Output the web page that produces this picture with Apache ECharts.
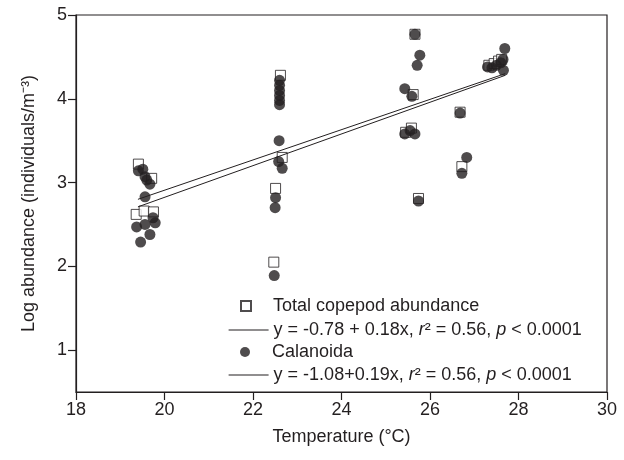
<!DOCTYPE html>
<html>
<head>
<meta charset="utf-8">
<script src="https://cdn.jsdelivr.net/npm/echarts@6/dist/echarts.min.js"></script>
<style>html,body{margin:0;padding:0;background:#fff}#c{width:624px;height:460px}</style>
</head>
<body>
<div id="c"></div>
<script>
// Total copepod abundance (open squares)
var totalTemp  = [19.41,19.71,19.36,19.54,19.75, 22.62,22.51,22.47,22.66, 25.66,25.62,25.45,25.58,25.74, 26.72,26.68, 27.33,27.45,27.55,27.62];
var totalAbund = [3.22, 3.05, 2.62, 2.66, 2.65,  4.28, 2.93, 2.05, 3.30,  4.77, 4.05, 3.60, 3.65, 2.81,  3.19, 3.84,  4.40, 4.42, 4.45, 4.47];
// Calanoida (filled circles)
var calTemp  = [19.41,19.51,19.56,19.60,19.67,19.56,19.37,19.56,19.74,19.79,19.67,19.46,
                22.60,22.60,22.60,22.60,22.60,22.60,22.59,22.58,22.66,22.51,22.50,22.48,
                25.66,25.77,25.71,25.43,25.59,25.43,25.55,25.66,25.74,
                26.68,26.83,26.72,
                27.30,27.40,27.50,27.60,27.66,27.69,27.65];
var calAbund = [3.14,3.16,3.07,3.03,2.98,2.83,2.47,2.50,2.58,2.52,2.38,2.29,
                4.22,4.16,4.10,4.04,3.98,3.93,3.50,3.25,3.17,2.82,2.70,1.89,
                4.77,4.52,4.40,4.12,4.03,3.58,3.62,3.58,2.78,
                3.83,3.30,3.11,
                4.38,4.37,4.40,4.43,4.34,4.60,4.47];
// Fitted regression lines (end points as drawn)
var totalFitTemp = [19.4, 27.7];
var totalFitAbund = [2.80, 4.30];
var calFitTemp = [19.4, 27.7];
var calFitAbund = [2.71, 4.28];
// Axis ticks
var xTicks = [18,20,22,24,26,28,30];
var yTicks = [1,2,3,4,5];

var nameTotal = 'Total copepod abundance';
var nameTotalFit = 'y = -0.78 + 0.18x, r2 = 0.56, p < 0.0001';
var nameCal = 'Calanoida';
var nameCalFit = 'y = -1.08+0.19x, r2 = 0.56, p < 0.0001';

function zip(a, b) { return a.map(function (v, i) { return [v, b[i]]; }); }

var ink = '#231f20';
var font = 'Liberation Sans, Arial, Helvetica, sans-serif';
var rich = {
  n: {fontSize: 18, fontFamily: font, color: ink},
  i: {fontSize: 18, fontFamily: font, color: ink, fontStyle: 'italic'},
  g: {width: 17, fontSize: 18}
};
function fmt(name) {
  if (name === nameTotalFit) return '{n|y = -0.78 + 0.18x, }{i|r}{n|² = 0.56, }{i|p}{n| < 0.0001}';
  if (name === nameCalFit) return '{n|y = -1.08+0.19x, }{i|r}{n|² = 0.56, }{i|p}{n| < 0.0001}';
  return '{g|}{n|' + name + '}';
}
function markerLegend(name, top) {
  return {
    data: [name], left: 240, top: top, padding: 0,
    itemWidth: 10, itemHeight: 10,
    selectedMode: false, formatter: fmt,
    textStyle: {rich: rich, color: ink, fontSize: 18, fontFamily: font}
  };
}
function lineLegend(name, top) {
  return {
    data: [name], left: 228, top: top, padding: 0,
    itemWidth: 40, itemHeight: 14,
    selectedMode: false, formatter: fmt,
    itemStyle: {opacity: 0},
    lineStyle: {color: ink, width: 1.2},
    textStyle: {rich: rich, color: ink, fontSize: 18, fontFamily: font}
  };
}

var chart = echarts.init(document.getElementById('c'), null, {renderer: 'canvas'});
chart.setOption({
  animation: false,
  backgroundColor: '#fff',
  grid: {left: 76, right: 17, top: 15, bottom: 68, show: true, borderColor: ink, borderWidth: 1.2, backgroundColor: 'transparent'},
  legend: [
    markerLegend(nameTotal, 297),
    lineLegend(nameTotalFit, 321),
    markerLegend(nameCal, 343),
    lineLegend(nameCalFit, 366)
  ],
  xAxis: {
    type: 'value', min: 18, max: 30, interval: 2,
    name: 'Temperature (°C)', nameLocation: 'middle', nameGap: 36,
    nameTextStyle: {fontSize: 18, fontFamily: font, color: ink},
    axisLine: {lineStyle: {color: ink, width: 1.2}},
    axisTick: {length: 8, lineStyle: {color: ink, width: 1.2}},
    axisLabel: {fontSize: 18, fontFamily: font, color: ink, margin: 9, customValues: xTicks},
    splitLine: {show: false}
  },
  yAxis: {
    type: 'value', min: 0.5, max: 5,
    name: 'Log abundance (individuals/m⁻³)', nameLocation: 'middle', nameGap: 38,
    nameTextStyle: {fontSize: 18, fontFamily: font, color: ink},
    axisLine: {show: true, lineStyle: {color: ink, width: 1.2}},
    axisTick: {show: true, length: 8, lineStyle: {color: ink, width: 1.2}, customValues: yTicks},
    axisLabel: {fontSize: 18, fontFamily: font, color: ink, margin: 9, customValues: yTicks},
    splitLine: {show: false}
  },
  series: [
    {
      name: nameTotal, type: 'scatter', symbol: 'rect', symbolSize: 10,
      itemStyle: {color: '#fff', borderColor: ink, borderWidth: 1},
      data: zip(totalTemp, totalAbund), z: 2
    },
    {
      name: nameTotalFit, type: 'line', symbol: 'none', showSymbol: false,
      lineStyle: {color: ink, width: 1}, itemStyle: {color: ink},
      data: zip(totalFitTemp, totalFitAbund), z: 3
    },
    {
      name: nameCal, type: 'scatter', symbol: 'circle', symbolSize: 11,
      itemStyle: {color: ink, borderColor: ink, borderWidth: 0},
      data: zip(calTemp, calAbund), z: 4
    },
    {
      name: nameCalFit, type: 'line', symbol: 'none', showSymbol: false,
      lineStyle: {color: ink, width: 1}, itemStyle: {color: ink},
      data: zip(calFitTemp, calFitAbund), z: 3
    }
  ]
});
</script>
</body>
</html>
